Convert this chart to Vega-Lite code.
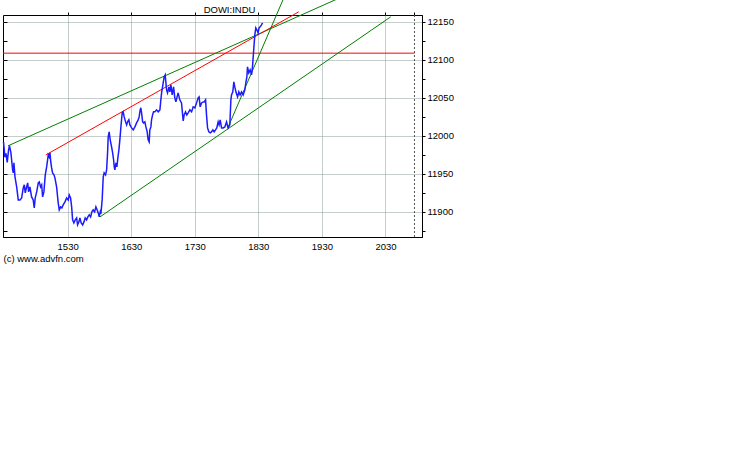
{
  "$schema": "https://vega.github.io/schema/vega-lite/v6.json",
  "width": 419,
  "height": 222,
  "autosize": {"type": "none"},
  "padding": {"left": 3, "top": 15, "right": 316, "bottom": 238},
  "background": "white",
  "config": {"view": {"stroke": "black", "strokeWidth": 1}, "font": "Liberation Sans"},
  "datasets": {
    "price": [
      {"t": 869.5, "v": 11992}, {"t": 870.8, "v": 11972}, {"t": 871.8, "v": 11977}, {"t": 873.0, "v": 11965},
      {"t": 874.2, "v": 11981}, {"t": 875.1, "v": 11987}, {"t": 876.5, "v": 11977.6}, {"t": 877.4, "v": 11964.5},
      {"t": 878.1, "v": 11955.3}, {"t": 878.7, "v": 11951.3}, {"t": 879.3, "v": 11964.5}, {"t": 880.3, "v": 11946.1},
      {"t": 881.9, "v": 11932.9}, {"t": 883.4, "v": 11915.8}, {"t": 885.0, "v": 11915.8}, {"t": 886.6, "v": 11918.4},
      {"t": 888.1, "v": 11931.6}, {"t": 889.1, "v": 11935.6}, {"t": 890.0, "v": 11925.0}, {"t": 891.3, "v": 11932.9},
      {"t": 892.3, "v": 11938.2}, {"t": 893.2, "v": 11926.3}, {"t": 894.4, "v": 11932.9}, {"t": 896.0, "v": 11919.7},
      {"t": 897.5, "v": 11915.8}, {"t": 898.5, "v": 11905.3}, {"t": 899.4, "v": 11918.4}, {"t": 900.8, "v": 11926.3},
      {"t": 902.3, "v": 11938.2}, {"t": 903.2, "v": 11939.5}, {"t": 904.5, "v": 11932.9}, {"t": 905.5, "v": 11935.6},
      {"t": 906.4, "v": 11919.7}, {"t": 907.6, "v": 11926.3}, {"t": 908.9, "v": 11948.7}, {"t": 910.2, "v": 11959.2},
      {"t": 911.1, "v": 11968.4}, {"t": 911.7, "v": 11975.0}, {"t": 912.6, "v": 11972.4}, {"t": 913.3, "v": 11977.6},
      {"t": 914.2, "v": 11964.5}, {"t": 914.9, "v": 11957.9}, {"t": 915.8, "v": 11951.3}, {"t": 917.1, "v": 11948.7},
      {"t": 918.0, "v": 11944.8}, {"t": 919.6, "v": 11932.9}, {"t": 921.1, "v": 11911.9}, {"t": 922.1, "v": 11902.6},
      {"t": 923.4, "v": 11906.6}, {"t": 924.6, "v": 11905.3}, {"t": 925.8, "v": 11909.2}, {"t": 927.5, "v": 11913.2},
      {"t": 929.1, "v": 11918.4}, {"t": 930.6, "v": 11915.8}, {"t": 931.5, "v": 11922.4}, {"t": 932.8, "v": 11918.4},
      {"t": 933.8, "v": 11906.6}, {"t": 934.7, "v": 11889.5}, {"t": 935.9, "v": 11885.5}, {"t": 937.2, "v": 11889.5},
      {"t": 938.5, "v": 11892.1}, {"t": 939.4, "v": 11882.9}, {"t": 940.7, "v": 11886.9}, {"t": 941.6, "v": 11892.1},
      {"t": 942.8, "v": 11885.5}, {"t": 944.2, "v": 11882.9}, {"t": 945.4, "v": 11886.9}, {"t": 946.6, "v": 11892.1},
      {"t": 947.9, "v": 11889.5}, {"t": 949.1, "v": 11893.4}, {"t": 950.4, "v": 11896.1}, {"t": 951.7, "v": 11893.4},
      {"t": 952.9, "v": 11900.0}, {"t": 954.1, "v": 11902.6}, {"t": 955.5, "v": 11900.0}, {"t": 956.7, "v": 11906.6},
      {"t": 957.9, "v": 11902.6}, {"t": 958.9, "v": 11898.7}, {"t": 959.8, "v": 11893.4}, {"t": 960.8, "v": 11900.0},
      {"t": 961.4, "v": 11897.4}, {"t": 962.6, "v": 11915.8}, {"t": 963.6, "v": 11946.1}, {"t": 964.5, "v": 11951.3},
      {"t": 965.8, "v": 11948.7}, {"t": 966.8, "v": 11955.3}, {"t": 967.7, "v": 11977.6}, {"t": 968.3, "v": 11998.7},
      {"t": 969.2, "v": 12005.3}, {"t": 970.2, "v": 11994.8}, {"t": 971.5, "v": 11985.5}, {"t": 972.5, "v": 11977.6},
      {"t": 973.4, "v": 11968.4}, {"t": 974.0, "v": 11959.2}, {"t": 974.6, "v": 11955.3}, {"t": 975.6, "v": 11964.5},
      {"t": 976.5, "v": 11959.2}, {"t": 977.2, "v": 11968.4}, {"t": 978.4, "v": 11981.6}, {"t": 979.3, "v": 11994.8},
      {"t": 980.3, "v": 12011.8}, {"t": 981.5, "v": 12030.3}, {"t": 982.4, "v": 12031.6}, {"t": 983.4, "v": 12025.0},
      {"t": 984.7, "v": 12018.4}, {"t": 985.7, "v": 12014.5}, {"t": 986.6, "v": 12018.4}, {"t": 987.8, "v": 12021.1},
      {"t": 988.8, "v": 12014.5}, {"t": 990.4, "v": 12010.5}, {"t": 991.9, "v": 12007.9}, {"t": 993.5, "v": 12011.8},
      {"t": 995.1, "v": 12017.1}, {"t": 996.6, "v": 12021.1}, {"t": 997.5, "v": 12025.0}, {"t": 998.5, "v": 12034.2},
      {"t": 999.1, "v": 12036.9}, {"t": 999.8, "v": 12030.3}, {"t": 1000.8, "v": 12018.4}, {"t": 1001.7, "v": 12017.1},
      {"t": 1002.9, "v": 12018.4}, {"t": 1003.9, "v": 12011.8}, {"t": 1005.1, "v": 12005.3}, {"t": 1006.0, "v": 11994.8},
      {"t": 1007.0, "v": 11992.1}, {"t": 1007.6, "v": 12007.9}, {"t": 1008.6, "v": 12011.8}, {"t": 1009.2, "v": 12021.1},
      {"t": 1010.2, "v": 12027.6}, {"t": 1011.1, "v": 12031.6}, {"t": 1012.4, "v": 12031.6}, {"t": 1013.9, "v": 12034.2},
      {"t": 1015.5, "v": 12031.6}, {"t": 1017.1, "v": 12034.2}, {"t": 1018.0, "v": 12047.4}, {"t": 1018.7, "v": 12056.6},
      {"t": 1019.6, "v": 12064.4}, {"t": 1020.2, "v": 12069.7}, {"t": 1021.1, "v": 12077.6}, {"t": 1022.1, "v": 12080.3},
      {"t": 1022.7, "v": 12071.0}, {"t": 1023.4, "v": 12060.5}, {"t": 1024.3, "v": 12056.6}, {"t": 1025.6, "v": 12064.4},
      {"t": 1026.5, "v": 12057.9}, {"t": 1027.5, "v": 12067.1}, {"t": 1028.7, "v": 12053.9}, {"t": 1030.0, "v": 12064.4},
      {"t": 1031.2, "v": 12050.0}, {"t": 1032.2, "v": 12044.7}, {"t": 1033.1, "v": 12050.0}, {"t": 1034.3, "v": 12056.6},
      {"t": 1035.9, "v": 12047.4}, {"t": 1037.5, "v": 12043.4}, {"t": 1039.1, "v": 12019.7}, {"t": 1040.0, "v": 12027.6},
      {"t": 1041.3, "v": 12031.6}, {"t": 1042.5, "v": 12027.6}, {"t": 1043.8, "v": 12030.3}, {"t": 1045.4, "v": 12034.2},
      {"t": 1047.0, "v": 12031.6}, {"t": 1048.5, "v": 12038.2}, {"t": 1050.1, "v": 12036.9}, {"t": 1051.7, "v": 12043.4},
      {"t": 1053.2, "v": 12050.0}, {"t": 1054.1, "v": 12051.3}, {"t": 1055.1, "v": 12038.2}, {"t": 1056.4, "v": 12043.4},
      {"t": 1057.9, "v": 12044.7}, {"t": 1058.9, "v": 12044.7}, {"t": 1060.2, "v": 12047.4}, {"t": 1061.1, "v": 12027.6},
      {"t": 1062.1, "v": 12010.5}, {"t": 1063.3, "v": 12005.3}, {"t": 1064.5, "v": 12004.0}, {"t": 1065.8, "v": 12005.3},
      {"t": 1067.1, "v": 12007.9}, {"t": 1068.3, "v": 12005.3}, {"t": 1069.6, "v": 12007.9}, {"t": 1070.8, "v": 12010.5},
      {"t": 1072.1, "v": 12018.4}, {"t": 1073.0, "v": 12014.5}, {"t": 1074.0, "v": 12021.1}, {"t": 1075.3, "v": 12010.5},
      {"t": 1076.8, "v": 12010.5}, {"t": 1078.4, "v": 12011.8}, {"t": 1080.0, "v": 12018.4}, {"t": 1081.5, "v": 12010.5},
      {"t": 1083.1, "v": 12014.5}, {"t": 1084.1, "v": 12047.4}, {"t": 1084.7, "v": 12053.9}, {"t": 1085.9, "v": 12057.9},
      {"t": 1086.9, "v": 12071.0}, {"t": 1087.8, "v": 12064.4}, {"t": 1089.1, "v": 12056.6}, {"t": 1090.4, "v": 12051.3},
      {"t": 1091.6, "v": 12057.9}, {"t": 1092.8, "v": 12053.9}, {"t": 1094.2, "v": 12057.9}, {"t": 1095.7, "v": 12053.9},
      {"t": 1097.3, "v": 12060.5}, {"t": 1098.2, "v": 12069.7}, {"t": 1099.2, "v": 12077.6}, {"t": 1099.8, "v": 12090.8},
      {"t": 1101.0, "v": 12082.9}, {"t": 1102.3, "v": 12086.8}, {"t": 1103.6, "v": 12080.3}, {"t": 1104.5, "v": 12090.8},
      {"t": 1105.5, "v": 12110.5}, {"t": 1106.7, "v": 12132.9}, {"t": 1107.6, "v": 12142.1}, {"t": 1108.6, "v": 12139.5},
      {"t": 1109.8, "v": 12135.5}, {"t": 1110.7, "v": 12142.1}, {"t": 1111.7, "v": 12143.4}, {"t": 1113.0, "v": 12146.1},
      {"t": 1114.0, "v": 12148.7}
    ],
    "trends": [
      {"name": "upper", "t": 873.7, "v": 11986.9}, {"name": "upper", "t": 1186.9, "v": 12181.6},
      {"name": "mid", "t": 909.5, "v": 11975.0}, {"name": "mid", "t": 1148.2, "v": 12163.2},
      {"name": "lower", "t": 960.5, "v": 11893.4}, {"name": "lower", "t": 1235.0, "v": 12156.6},
      {"name": "steep", "t": 1081.2, "v": 12010.5}, {"name": "steep", "t": 1134.5, "v": 12182.9}
    ],
    "level": [{"t0": 869, "t1": 1257.4, "v": 12108.8}],
    "marker": [{"t": 1257.4}]
  },
  "layer": [
    {
      "data": {"name": "marker"},
      "mark": {"type": "rule", "color": "#555555", "strokeDash": [2, 2], "strokeWidth": 1},
      "encoding": {
        "x": {"field": "t", "type": "quantitative", "axis": null}
      }
    },
    {
      "data": {"name": "level"},
      "mark": {"type": "rule", "color": "#ff0000", "strokeWidth": 1},
      "encoding": {
        "x": {"field": "t0", "type": "quantitative", "axis": null},
        "x2": {"field": "t1"},
        "y": {"field": "v", "type": "quantitative", "axis": null}
      }
    },
    {
      "data": {"name": "trends"},
      "mark": {"type": "line", "strokeWidth": 1, "clip": false},
      "encoding": {
        "x": {"field": "t", "type": "quantitative",
          "axis": {"orient": "top", "values": [930, 990, 1050, 1110, 1170, 1230, 1257.4], "labels": false, "grid": false, "domain": false, "tickSize": 3, "tickColor": "black",
            "title": "DOWI:INDU", "titleX": 226, "titleY": -3, "titleAlign": "center", "titleBaseline": "alphabetic",
            "titleFont": "Liberation Sans", "titleFontSize": 9.5, "titleFontWeight": "normal", "titleColor": "black"}},
        "y": {"field": "v", "type": "quantitative",
          "axis": {"orient": "left", "values": [11875, 11900, 11925, 11950, 11975, 12000, 12025, 12050, 12075, 12100, 12125, 12150], "labels": false, "grid": false, "domain": false, "tickSize": -4, "tickColor": "black", "title": null}},
        "color": {"field": "name", "type": "nominal", "legend": null,
          "scale": {"domain": ["upper", "mid", "lower", "steep"], "range": ["#008000", "#ff0000", "#008000", "#008000"]}}
      }
    },
    {
      "data": {"name": "price"},
      "mark": {"type": "line", "color": "#1c1cff", "strokeWidth": 1.5, "clip": false},
      "encoding": {
        "x": {"field": "t", "type": "quantitative",
          "scale": {"domain": [869, 1264.5], "nice": false, "zero": false},
          "axis": {"orient": "bottom", "values": [930, 990, 1050, 1110, 1170, 1230],
            "labelExpr": "floor(datum.value/60) + '' + (datum.value % 60 < 10 ? '0' : '') + (datum.value % 60)",
            "grid": true, "gridColor": "#8a9a9a", "gridDash": [1, 1], "ticks": false, "domainColor": "black",
            "labelFont": "Liberation Sans", "labelFontSize": 9.5, "labelColor": "black", "labelPadding": 4,
            "title": "(c) www.advfn.com", "titleAnchor": "start", "titleAlign": "left", "titleFontWeight": "normal",
            "titleFont": "Liberation Sans", "titleFontSize": 9.5, "titleColor": "black", "titlePadding": 3}},
        "y": {"field": "v", "type": "quantitative",
          "scale": {"domain": [11867, 12159], "nice": false, "zero": false},
          "axis": {"orient": "right", "values": [11875, 11900, 11925, 11950, 11975, 12000, 12025, 12050, 12075, 12100, 12125, 12150],
            "format": "d", "labelExpr": "datum.value % 50 == 0 ? datum.label : ''",
            "grid": true, "gridColor": "#8a9a9a", "gridDash": [1, 1],
            "gridOpacity": {"condition": {"test": "datum.value % 50 == 0", "value": 1}, "value": 0},
            "tickSize": 3, "tickColor": "black", "domainColor": "black",
            "labelFont": "Liberation Sans", "labelFontSize": 9.5, "labelColor": "black", "labelPadding": 2, "title": null}}
      }
    }
  ],
  "resolve": {"axis": {"x": "independent", "y": "independent"}}
}
